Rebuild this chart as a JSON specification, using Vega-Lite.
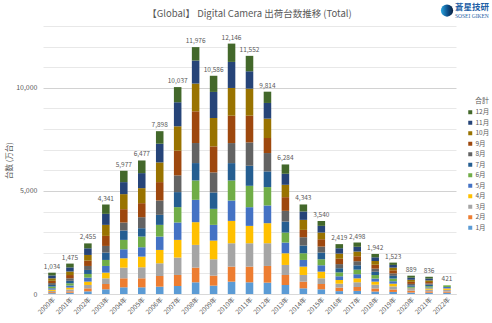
{
  "$schema": "https://vega.github.io/schema/vega-lite/v6.json",
  "width": 413,
  "height": 268,
  "autosize": {"type": "none"},
  "padding": {"left": 43, "top": 26, "right": 36, "bottom": 29},
  "background": "white",
  "title": {"text": "【Global】 Digital Camera 出荷台数推移 (Total)", "fontSize": 9.5, "fontWeight": "normal", "color": "#595959", "offset": -15.5, "frame": "group", "anchor": "middle", "font": "Noto Sans CJK JP"},
  "config": {"font": "Noto Sans CJK JP", "view": {"stroke": null}},
  "datasets": {
    "months": [
      {"month": "1月", "m": 1}, {"month": "2月", "m": 2}, {"month": "3月", "m": 3}, {"month": "4月", "m": 4},
      {"month": "5月", "m": 5}, {"month": "6月", "m": 6}, {"month": "7月", "m": 7}, {"month": "8月", "m": 8},
      {"month": "9月", "m": 9}, {"month": "10月", "m": 10}, {"month": "11月", "m": 11}, {"month": "12月", "m": 12}
    ],
    "logo": [{"name": "蒼星技研", "sub": "SOSEI GIKEN", "at": "2022年"}],
    "ship": [
      {"year": "2000年", "1月": 40, "2月": 50, "3月": 60, "4月": 60, "5月": 70, "6月": 80, "7月": 80, "8月": 90, "9月": 110, "10月": 120, "11月": 140, "12月": 134},
      {"year": "2001年", "1月": 60, "2月": 70, "3月": 90, "4月": 90, "5月": 100, "6月": 110, "7月": 120, "8月": 120, "9月": 160, "10月": 170, "11月": 200, "12月": 185},
      {"year": "2002年", "1月": 130, "2月": 146, "3月": 162, "4月": 162, "5月": 194, "6月": 178, "7月": 194, "8月": 194, "9月": 259, "10月": 275, "11月": 324, "12月": 237},
      {"year": "2003年", "1月": 227, "2月": 259, "3月": 275, "4月": 275, "5月": 324, "6月": 292, "7月": 356, "8月": 324, "9月": 486, "10月": 535, "11月": 535, "12月": 453},
      {"year": "2004年", "1月": 324, "2月": 437, "3月": 518, "4月": 454, "5月": 437, "6月": 454, "7月": 454, "8月": 389, "9月": 648, "10月": 729, "11月": 583, "12月": 550},
      {"year": "2005年", "1月": 324, "2月": 437, "3月": 535, "4月": 518, "5月": 454, "6月": 518, "7月": 405, "8月": 535, "9月": 680, "10月": 729, "11月": 729, "12月": 613},
      {"year": "2006年", "1月": 356, "2月": 518, "3月": 616, "4月": 648, "5月": 648, "6月": 567, "7月": 486, "8月": 697, "9月": 891, "10月": 956, "11月": 907, "12月": 608},
      {"year": "2007年", "1月": 389, "2月": 535, "3月": 843, "4月": 859, "5月": 843, "6月": 745, "7月": 729, "8月": 810, "9月": 1199, "10月": 1183, "11月": 1166, "12月": 736},
      {"year": "2008年", "1月": 567, "2月": 713, "3月": 1102, "4月": 1102, "5月": 1085, "6月": 940, "7月": 842, "8月": 972, "9月": 1539, "10月": 1345, "11月": 1118, "12月": 651},
      {"year": "2009年", "1月": 405, "2月": 486, "3月": 794, "4月": 907, "5月": 761, "6月": 778, "7月": 794, "8月": 972, "9月": 1264, "10月": 1377, "11月": 1264, "12月": 784},
      {"year": "2010年", "1月": 599, "2月": 729, "3月": 1134, "4月": 1085, "5月": 988, "6月": 972, "7月": 842, "8月": 972, "9月": 1328, "10月": 1345, "11月": 1264, "12月": 888},
      {"year": "2011年", "1月": 567, "2月": 761, "3月": 1134, "4月": 842, "5月": 907, "6月": 1037, "7月": 972, "8月": 1134, "9月": 1296, "10月": 1312, "11月": 842, "12月": 748},
      {"year": "2012年", "1月": 551, "2月": 810, "3月": 1102, "4月": 972, "5月": 859, "6月": 891, "7月": 761, "8月": 891, "9月": 729, "10月": 940, "11月": 761, "12月": 547},
      {"year": "2013年", "1月": 437, "2月": 486, "3月": 486, "4月": 567, "5月": 518, "6月": 486, "7月": 535, "8月": 518, "9月": 664, "10月": 600, "11月": 535, "12月": 452},
      {"year": "2014年", "1月": 275, "2月": 324, "3月": 324, "4月": 405, "5月": 324, "6月": 324, "7月": 373, "8月": 405, "9月": 356, "10月": 486, "11月": 405, "12月": 342},
      {"year": "2015年", "1月": 227, "2月": 259, "3月": 275, "4月": 324, "5月": 308, "6月": 292, "7月": 324, "8月": 292, "9月": 356, "10月": 324, "11月": 324, "12月": 235},
      {"year": "2016年", "1月": 140, "2月": 170, "3月": 190, "4月": 180, "5月": 180, "6月": 190, "7月": 200, "8月": 200, "9月": 260, "10月": 250, "11月": 260, "12月": 199},
      {"year": "2017年", "1月": 150, "2月": 190, "3月": 230, "4月": 190, "5月": 200, "6月": 220, "7月": 210, "8月": 200, "9月": 240, "10月": 230, "11月": 230, "12月": 208},
      {"year": "2018年", "1月": 120, "2月": 150, "3月": 180, "4月": 150, "5月": 150, "6月": 170, "7月": 160, "8月": 150, "9月": 190, "10月": 180, "11月": 180, "12月": 162},
      {"year": "2019年", "1月": 100, "2月": 120, "3月": 150, "4月": 130, "5月": 120, "6月": 130, "7月": 130, "8月": 120, "9月": 150, "10月": 130, "11月": 130, "12月": 113},
      {"year": "2020年", "1月": 70, "2月": 90, "3月": 80, "4月": 30, "5月": 30, "6月": 50, "7月": 70, "8月": 70, "9月": 100, "10月": 100, "11月": 100, "12月": 99},
      {"year": "2021年", "1月": 60, "2月": 70, "3月": 80, "4月": 60, "5月": 50, "6月": 60, "7月": 70, "8月": 60, "9月": 70, "10月": 80, "11月": 90, "12月": 86},
      {"year": "2022年", "1月": 60, "2月": 60, "3月": 80, "4月": 70, "5月": 70, "6月": 81}
    ]
  },
  "layer": [
    {
      "data": {"name": "ship"},
      "transform": [
        {"fold": ["1月", "2月", "3月", "4月", "5月", "6月", "7月", "8月", "9月", "10月", "11月", "12月"], "as": ["month", "value"]},
        {"filter": "isValid(datum.value)"},
        {"lookup": "month", "from": {"data": {"name": "months"}, "key": "month", "fields": ["m"]}}
      ],
      "encoding": {
        "x": {
          "field": "year", "type": "ordinal",
          "scale": {"paddingInner": 0.58, "paddingOuter": 0.29},
          "axis": {"title": null, "labelAngle": -45, "labelFontSize": 6.5, "labelColor": "#595959", "domainColor": "#d9d9d9", "ticks": false, "labelPadding": 2}
        },
        "y": {
          "field": "value", "type": "quantitative", "aggregate": "sum",
          "scale": {"domain": [0, 13000], "nice": false},
          "axis": {
            "title": "台数 (万台)", "titleFontSize": 7.5, "titleFontWeight": "normal", "titleColor": "#595959", "titlePadding": 2,
            "values": [0, 1000, 2000, 3000, 4000, 5000, 6000, 7000, 8000, 9000, 10000, 11000, 12000, 13000],
            "tickCount": 20,
            "labelExpr": "datum.value % 5000 === 0 ? format(datum.value, ',') : ''",
            "labelOverlap": false,
            "labelFontSize": 7, "labelColor": "#595959", "labelPadding": 6,
            "domain": false, "ticks": false,
            "gridColor": {"condition": {"test": "datum.value % 5000 === 0", "value": "#d2d2d2"}, "value": "#e8e8e8"}
          }
        }
      },
      "layer": [
        {
          "mark": {"type": "bar"},
          "encoding": {
            "color": {
              "field": "month", "type": "nominal",
              "scale": {
                "domain": ["1月", "2月", "3月", "4月", "5月", "6月", "7月", "8月", "9月", "10月", "11月", "12月"],
                "range": ["#5B9BD5", "#ED7D31", "#A5A5A5", "#FFC000", "#4472C4", "#70AD47", "#255E91", "#636363", "#9E480E", "#997300", "#264478", "#43682B"]
              },
              "legend": {
                "title": "合計", "values": ["12月", "11月", "10月", "9月", "8月", "7月", "6月", "5月", "4月", "3月", "2月", "1月"],
                "orient": "none", "legendX": 424, "legendY": 71,
                "titleFontSize": 7, "titleFontWeight": "normal", "titleColor": "#595959", "titleAnchor": "end",
                "symbolType": "square", "symbolSize": 16, "symbolStrokeWidth": 0,
                "labelFontSize": 6.5, "labelColor": "#595959", "rowPadding": 3.5, "labelOffset": 2
              }
            },
            "order": {"field": "m", "type": "quantitative", "sort": "ascending"}
          }
        },
        {
          "mark": {"type": "text", "baseline": "bottom", "dy": -3, "fontSize": 6.5, "color": "#595959"},
          "encoding": {
            "text": {"field": "value", "aggregate": "sum", "type": "quantitative", "format": ","}
          }
        }
      ]
    },
    {
      "data": {"name": "logo"},
      "mark": {"type": "point", "shape": "circle", "size": 150, "filled": true, "opacity": 1,
        "color": {"gradient": "linear", "x1": 0, "y1": 0, "x2": 1, "y2": 0, "stops": [{"offset": 0, "color": "#2aa6e0"}, {"offset": 0.55, "color": "#0d4f8a"}, {"offset": 1, "color": "#0a1f3d"}]}},
      "encoding": {
        "x": {"field": "at", "type": "ordinal"},
        "y": {"datum": 13750, "type": "quantitative"}
      }
    },
    {
      "data": {"name": "logo"},
      "mark": {"type": "text", "align": "left", "dx": 8, "dy": -4, "fontSize": 8.5, "fontWeight": "bold", "color": "#1d5fa6", "font": "Noto Sans CJK JP"},
      "encoding": {
        "x": {"field": "at", "type": "ordinal"},
        "y": {"datum": 13750, "type": "quantitative"},
        "text": {"field": "name"}
      }
    },
    {
      "data": {"name": "logo"},
      "mark": {"type": "text", "align": "left", "dx": 8, "dy": 5, "fontSize": 5.5, "color": "#1d5fa6", "font": "Liberation Serif"},
      "encoding": {
        "x": {"field": "at", "type": "ordinal"},
        "y": {"datum": 13750, "type": "quantitative"},
        "text": {"field": "sub"}
      }
    }
  ]
}
